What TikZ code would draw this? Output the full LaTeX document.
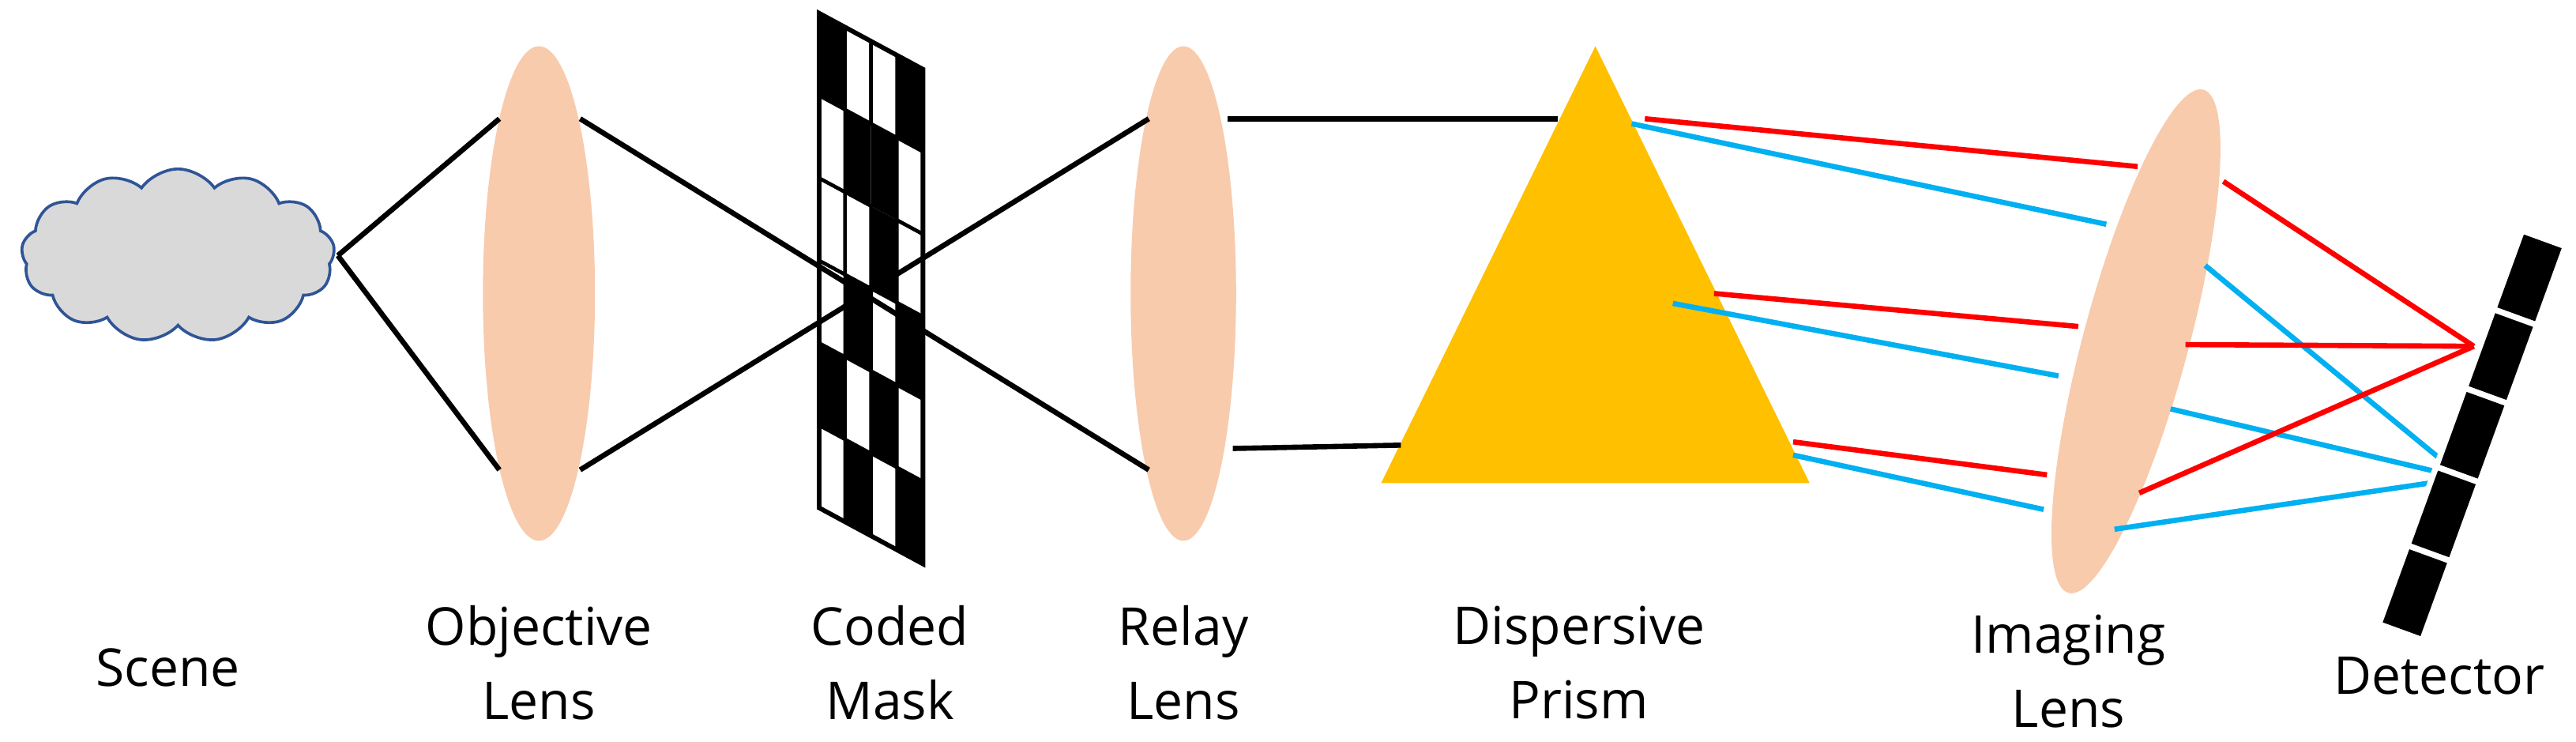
\documentclass[tikz,border=0pt]{standalone}
\usepackage{fontspec}
\setmainfont{Open Sans}
\usetikzlibrary{shapes.symbols}
\definecolor{lens}{HTML}{F8CBAD}
\definecolor{prism}{HTML}{FFC000}
\definecolor{rred}{HTML}{FF0000}
\definecolor{rblue}{HTML}{00B0F0}
\definecolor{cloudb}{HTML}{2F5597}
\begin{document}
\begin{tikzpicture}[x=0.01cm,y=-0.01cm,
  lbl/.style={align=center,font=\fontsize{9}{12.8}\selectfont},
  ray/.style={line width=0.9pt},
  red/.style={ray,draw=rred},blue/.style={ray,draw=rblue}]
\useasboundingbox (0,0) rectangle (1563,450);
% cloud
\node[cloud,cloud puffs=13,cloud puff arc=110,aspect=1.9,fill=gray!30,draw=cloudb,line width=0.5pt,minimum width=1.9cm,minimum height=1.05cm] (scene) at (108,155) {};
\coordinate (sc) at (205,155);
% objective lens
\fill[lens] (327,178) ellipse [x radius=34,y radius=150];
\coordinate (o1) at (303,72); \coordinate (o2) at (303,285);
\coordinate (o3) at (352,72); \coordinate (o4) at (352,285);
\draw[ray] (sc)--(o1); \draw[ray] (sc)--(o2);
% relay lens
\fill[lens] (718,178) ellipse [x radius=32,y radius=150];
\coordinate (r1) at (697,72); \coordinate (r2) at (697,285);
\coordinate (r3) at (745,72); \coordinate (r4) at (748,272);
\draw[ray] (o3)--(r2); \draw[ray] (o4)--(r1);
% mask
\begin{scope}[shift={(497,8)}]
\foreach \r/\row in {0/{1,0,0,1},1/{0,1,1,0},2/{0,0,1,0},3/{0,1,0,1},4/{1,0,1,0},5/{0,1,0,1}}{
  \foreach \v [count=\c from 0] in \row {
    \pgfmathsetmacro\xa{\c*15.75}\pgfmathsetmacro\xb{(\c+1)*15.75}
    \pgfmathsetmacro\ya{\r*50+\c*8.5}\pgfmathsetmacro\yb{\r*50+(\c+1)*8.5}
    \ifnum\v=1
      \fill[black] (\xa,\ya)--(\xb,\yb)--(\xb,\yb+50)--(\xa,\ya+50)--cycle;
    \else
      \draw[black,line width=0.6pt] (\xa,\ya)--(\xb,\yb)--(\xb,\yb+50)--(\xa,\ya+50)--cycle;
    \fi
  }}
\draw[line width=0.8pt] (0,0)--(63,34)--(63,334)--(0,300)--cycle;
\end{scope}
% prism
\fill[prism] (968,28)--(1098,293)--(838,293)--cycle;
\coordinate (p1) at (945,72); \coordinate (p2) at (850,270);
\draw[ray] (r3)--(p1); \draw[ray] (r4)--(p2);
% imaging lens
\fill[lens,rotate around={-15:(1296,207)}] (1296,207) ellipse [x radius=32,y radius=158];
% rays
\coordinate (d1) at (1501,210); \coordinate (b1) at (1479,277);
\coordinate (b2) at (1478,286); \coordinate (b3) at (1474,293);
\draw[red] (998,72)--(1297,101); \draw[red] (1349,110)--(d1);
\draw[blue] (990,75)--(1278,136); \draw[blue] (1338,161)--(b1);
\draw[red] (1040,178)--(1261,198); \draw[red] (1326,209)--(d1);
\draw[blue] (1015,184)--(1249,228); \draw[blue] (1317,248)--(b2);
\draw[red] (1088,268)--(1242,288); \draw[red] (1298,299)--(d1);
\draw[blue] (1088,276)--(1240,309); \draw[blue] (1283,321)--(b3);
% detector
\begin{scope}[shift={(1500,264)},rotate=-20]
\foreach \i in {0,...,4}{
  \fill[black,draw=white,line width=1pt] (-14,-127+\i*50.8) rectangle (14,-127+\i*50.8+50.8);
}
\end{scope}
% labels
\node[lbl] at (102,405) {Scene};
\node[lbl] at (327,402) {Objective\\Lens};
\node[lbl] at (540,402) {Coded\\Mask};
\node[lbl] at (718,402) {Relay\\Lens};
\node[lbl] at (958,402) {Dispersive\\Prism};
\node[lbl] at (1255,407) {Imaging\\Lens};
\node[lbl] at (1480,410) {Detector};
\end{tikzpicture}
\end{document}
